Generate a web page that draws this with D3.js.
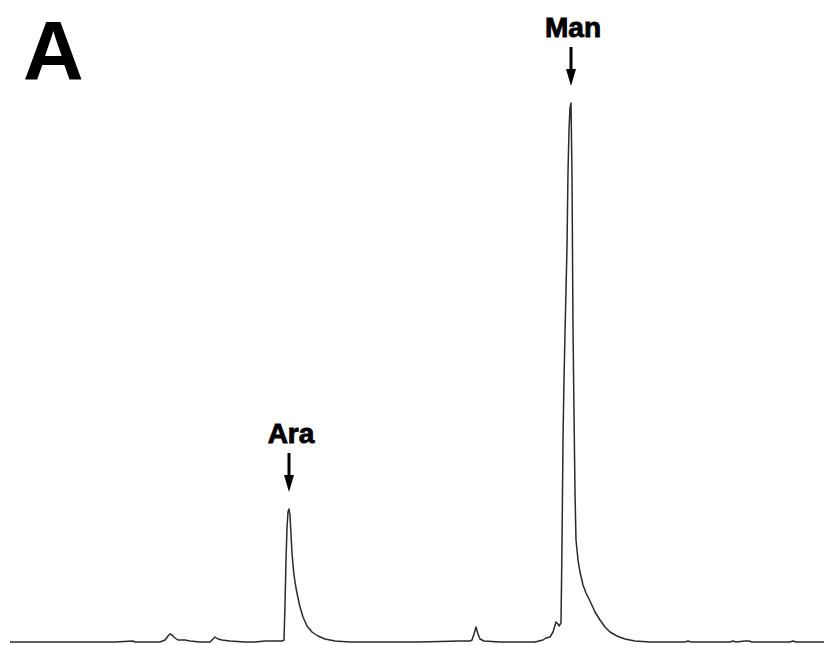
<!DOCTYPE html>
<html>
<head>
<meta charset="utf-8">
<script src="https://cdn.jsdelivr.net/npm/d3@7"></script>
<style>
html,body{margin:0;padding:0;background:#fff;}
svg{display:block;}
</style>
</head>
<body>
<script>
// Retention time (min)
const times = [0,2.5,4.5,5.25,6.15,6.25,7.5,7.75,7.9,8.0,8.1,8.25,8.4,8.75,9.0,9.5,10.0,10.15,10.25,10.4,10.6,11.0,11.75,12.25,12.75,13.25,13.6,13.7,13.75,13.8,13.85,13.9,13.95,14.0,14.05,14.1,14.15,14.2,14.3,14.4,14.5,14.65,14.85,15.1,15.4,15.75,16.25,17.0,18.5,20.5,22.5,23.0,23.1,23.2,23.3,23.4,23.5,23.7,24.5,26.25,26.65,26.8,27.0,27.15,27.3,27.4,27.45,27.55,27.6,27.65,27.7,27.75,27.8,27.85,27.9,27.95,28.0,28.05,28.1,28.15,28.2,28.25,28.3,28.4,28.5,28.65,28.8,29.0,29.25,29.5,29.75,30.0,30.35,30.75,31.25,32.0,33.75,33.9,34.05,36.0,36.15,36.3,36.75,36.95,37.1,39.0,39.15,39.3,40.7];
// Detector signal (nC)
const signal = [0,0,0,0,0.5,0,0,1,3,4,3.5,2,1,1,0.5,0,0,1.5,2.5,1.5,1,0.5,0,0,0.5,0.5,0.5,1,18.5,41,57,65,66.5,63.5,53.5,44.5,38.5,33.5,27,22,17.5,12.5,8,5,3,1.5,0.5,0,0,0,0.5,0.5,1,4,7.5,4,1.5,0.5,0,0,1,2,2.5,5,10,9,8,9.5,48.5,101,131,154.5,176,197.5,235,256,267,269.5,233.5,157.5,114.5,74.5,51,41,35,28.5,24.5,20.5,15,11,7.5,5,3,1.5,0.5,0,0,0.5,0,0,0.5,0,0.5,0.5,0,0,0.5,0,0];
// Peak annotations
const peakNames = ["Ara", "Man"];
const peakTimes = [13.95, 28.05];
const peakHeights = [66.5, 269.5];
const panelLabel = "A";

const W = 824, H = 645;
const svg = d3.select("body").append("svg").attr("width", W).attr("height", H);

const x = d3.scaleLinear().domain([0, 40.7]).range([10, 824]);
const y = d3.scaleLinear().domain([0, 269.5]).range([642, 103]);

const pts = times.map((t, i) => [t, signal[i]]);
const line = d3.line().x(d => x(d[0])).y(d => y(d[1]));

svg.append("path")
  .datum(pts)
  .attr("d", line)
  .attr("fill", "none")
  .attr("stroke", "#2a2a2a")
  .attr("stroke-width", 1.5)
  .attr("stroke-linejoin", "round");

// panel label
svg.append("text")
  .attr("x", 23).attr("y", 80)
  .attr("font-family", "'Liberation Sans', Arial, sans-serif")
  .attr("font-weight", "bold")
  .attr("font-size", 84)
  .attr("fill", "#000")
  .text(panelLabel);

// peak annotations
peakNames.forEach((name, i) => {
  const px = x(peakTimes[i]);
  const top = y(peakHeights[i]);
  const arrowEnd = top - 17;
  const arrowStart = arrowEnd - 39;
  const g = svg.append("g");
  g.append("line")
    .attr("x1", px).attr("x2", px)
    .attr("y1", arrowStart).attr("y2", arrowEnd - 12)
    .attr("stroke", "#000").attr("stroke-width", 3);
  g.append("path")
    .attr("d", `M${px - 5},${arrowEnd - 17} L${px + 5},${arrowEnd - 17} L${px},${arrowEnd} Z`)
    .attr("fill", "#000");
  g.append("text")
    .attr("x", px + 2).attr("y", arrowStart - 10)
    .attr("text-anchor", "middle")
    .attr("font-family", "'Liberation Sans', Arial, sans-serif")
    .attr("font-weight", "bold")
    .attr("font-size", 28)
    .attr("fill", "#000")
    .attr("stroke", "#000")
    .attr("stroke-width", 0.9)
    .text(name);
});
</script>
</body>
</html>
